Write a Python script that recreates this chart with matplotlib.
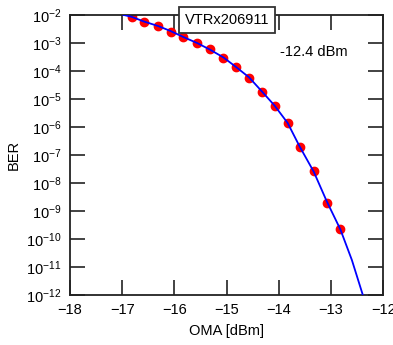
import numpy as np
import matplotlib.pyplot as plt

plt.rcParams['font.family'] = ['Liberation Sans', 'DejaVu Sans']
plt.rcParams['mathtext.fontset'] = 'custom'
plt.rcParams['mathtext.rm'] = 'Liberation Sans'
plt.rcParams['mathtext.it'] = 'Liberation Sans'

# measured points (OMA in dBm, log10 of BER)
oma = [-16.82, -16.58, -16.31, -16.07, -15.83, -15.56, -15.32, -15.06, -14.82,
       -14.57, -14.33, -14.08, -13.83, -13.60, -13.33, -13.08, -12.82]
log_ber = [-2.08, -2.26, -2.39, -2.60, -2.80, -2.99, -3.23, -3.53, -3.87,
           -4.25, -4.74, -5.25, -5.87, -6.73, -7.58, -8.70, -9.63]

# fitted curve
fit_oma = [-16.98, -16.82, -16.58, -16.31, -16.07, -15.83, -15.56, -15.32, -15.06,
           -14.82, -14.57, -14.33, -14.08, -13.83, -13.60, -13.33, -13.08, -12.82,
           -12.60, -12.39]
fit_log_ber = [-2.0, -2.07, -2.24, -2.40, -2.58, -2.79, -3.01, -3.24, -3.52,
               -3.86, -4.23, -4.72, -5.24, -5.86, -6.70, -7.60, -8.66, -9.66,
               -10.75, -12.0]

ber = 10.0 ** np.array(log_ber)
fit_ber = 10.0 ** np.array(fit_log_ber)

fig = plt.figure(figsize=(3.93, 3.45), dpi=100)
ax = fig.add_axes([0.178, 0.145, 0.797, 0.812])

ax.plot(oma, ber, 'o', color='red', markersize=6, zorder=2)
ax.plot(fit_oma, fit_ber, '-', color='blue', linewidth=1.3, zorder=3)

ax.set_yscale('log')
ax.set_xlim(-18, -12)
ax.set_ylim(1e-12, 1e-2)
ax.set_xticks(np.arange(-18, -11, 1))
ax.set_yticks([10.0 ** k for k in range(-12, -1)])
ax.yaxis.set_minor_locator(plt.NullLocator())
ax.tick_params(which='major', direction='in', length=11, width=1.2,
               top=True, right=True, labelsize=10.5, colors='#222222',
               labelcolor='black', pad=6)
for s in ax.spines.values():
    s.set_linewidth(1.3)
    s.set_color('#222222')

ax.set_xlabel('OMA [dBm]', fontsize=10.5, labelpad=5)
ax.set_ylabel('BER', fontsize=10.5, labelpad=4)

ax.text(0.67, 0.866, '-12.4 dBm', transform=ax.transAxes, fontsize=10.5,
        va='center', ha='left')
ax.text(227, 345 - 20, 'VTRx206911', transform=None, fontsize=10.5,
        ha='center', va='center', zorder=5,
        bbox=dict(boxstyle='square,pad=0.4', facecolor='white',
                  edgecolor='#333333', linewidth=1.3))

fig.savefig('out.png', dpi=100)
